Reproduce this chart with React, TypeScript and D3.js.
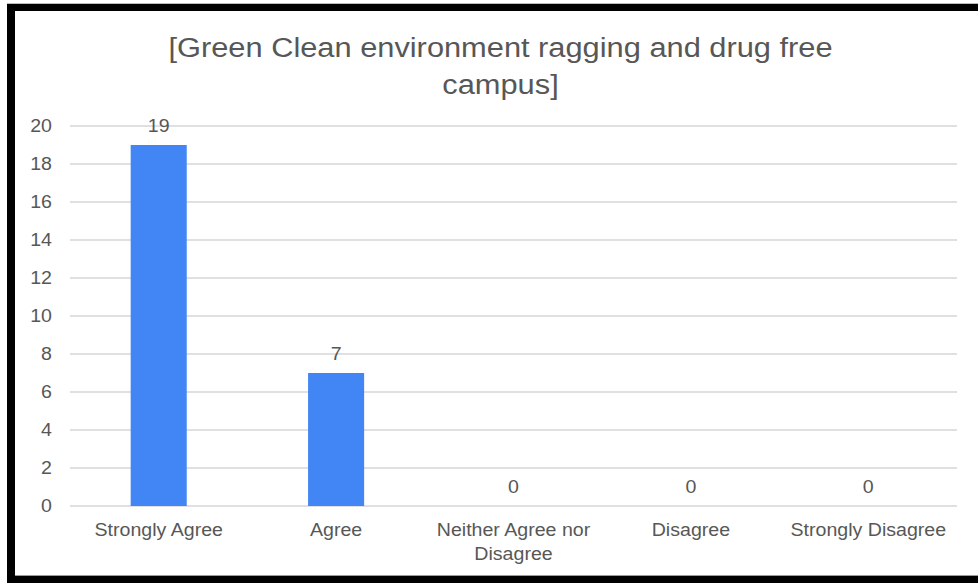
import React from "react";
import * as d3 from "d3";

const title = "[Green Clean environment ragging and drug free campus]";
const categories = ["Strongly Agree", "Agree", "Neither Agree nor Disagree", "Disagree", "Strongly Disagree"];
const values = [19, 7, 0, 0, 0];
const yTicks = [0, 2, 4, 6, 8, 10, 12, 14, 16, 18, 20];

const W = 978;
const H = 583;
const FONT = "'Liberation Sans', Arial, sans-serif";
const TEXT = "#575757";

let ctx: CanvasRenderingContext2D | null = null;
function measure(s: string, size: number) {
  if (!ctx) ctx = document.createElement("canvas").getContext("2d");
  if (!ctx) return s.length * size * 0.5;
  ctx.font = `${size}px ${FONT}`;
  return ctx.measureText(s).width;
}
function wrap(s: string, size: number, maxW: number) {
  const words = s.split(" ");
  const lines: string[] = [];
  let cur = "";
  for (const w of words) {
    const t = cur ? cur + " " + w : w;
    if (cur && measure(t, size) > maxW) {
      lines.push(cur);
      cur = w;
    } else cur = t;
  }
  if (cur) lines.push(cur);
  return lines;
}

export default function App() {
  const x = d3.scaleBand<string>().domain(categories).range([70, 957]).paddingInner(0.684).paddingOuter(0.342);
  const y = d3.scaleLinear().domain([0, 20]).range([506, 126]);
  const sx = 1.1;
  const titleSize = 28;
  const titleLines = wrap(title, titleSize * sx, 690);
  const labelSize = 17.5;
  const lsx = 1.12;

  return (
    <svg width={W} height={H} style={{ position: "absolute", left: 0, top: 0, display: "block" }} fontFamily={FONT}>
      <rect x={0} y={0} width={W} height={H} fill="#fff" />
      {/* frame */}
      <rect x={7} y={3} width={W - 7} height={1} fill="#bbb" />
      <rect x={7} y={4} width={W - 7} height={7} fill="#000" />
      <rect x={7} y={4} width={8} height={H - 4} fill="#000" />
      <rect x={7} y={576} width={W - 7} height={7} fill="#000" />
      <rect x={15} y={575} width={W - 15} height={1} fill="#999" />

      {/* title */}
      {titleLines.map((l, i) => (
        <text key={i} transform={`translate(${(168 + 833) / 2},${57 + i * 37}) scale(${sx},1)`} textAnchor="middle" fontSize={titleSize} fill={TEXT}>
          {l}
        </text>
      ))}

      {/* grid */}
      {yTicks.map((t) => (
        <g key={t}>
          <line x1={70} x2={957} y1={y(t)} y2={y(t)} stroke="#d6d6d6" strokeWidth={1.3} />
          <text transform={`translate(52,${y(t) + 6}) scale(${lsx},1)`} textAnchor="end" fontSize={labelSize} fill={TEXT}>
            {t}
          </text>
        </g>
      ))}

      {/* bars */}
      {categories.map((c, i) => (
        <g key={c}>
          {values[i] > 0 && (
            <rect x={x(c)} y={y(values[i])} width={x.bandwidth()} height={y(0) - y(values[i])} fill="#4285f4" />
          )}
          <text transform={`translate(${(x(c) as number) + x.bandwidth() / 2},${y(values[i]) - 13}) scale(${lsx},1)`} textAnchor="middle" fontSize={labelSize} fill={TEXT}>
            {values[i]}
          </text>
          {wrap(c, labelSize * lsx, 168).map((l, j) => (
            <text key={j} transform={`translate(${(x(c) as number) + x.bandwidth() / 2},${536 + j * 24}) scale(${lsx},1)`} textAnchor="middle" fontSize={labelSize} fill={TEXT}>
              {l}
            </text>
          ))}
        </g>
      ))}
    </svg>
  );
}
